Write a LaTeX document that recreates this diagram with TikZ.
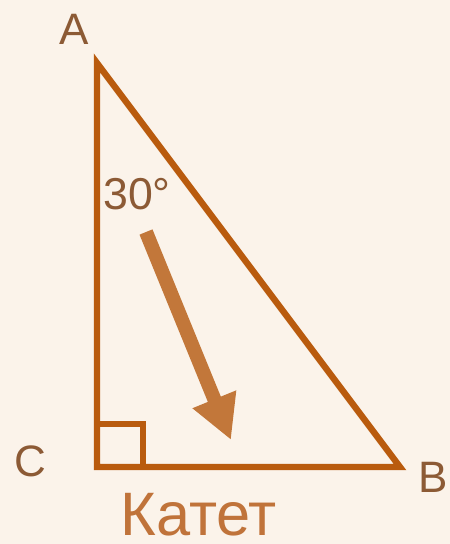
\documentclass[tikz,border=0pt]{standalone}
\usepackage{fontspec}
\setmainfont{Liberation Sans}
\usetikzlibrary{arrows.meta}
\definecolor{bg}{HTML}{FBF3EA}
\definecolor{edge}{HTML}{B95B0E}
\definecolor{arr}{HTML}{C2773A}
\definecolor{lbl}{HTML}{8C5A35}
\definecolor{kat}{HTML}{C0733A}
\tikzset{
  vlabel/.style={text=lbl, inner sep=0pt, font=\fontsize{33}{33}\selectfont},
  side/.style={draw=edge, line width=4.8pt, line join=miter},
}
\begin{document}
\begin{tikzpicture}[x=0.75pt,y=-0.75pt]
\fill[bg] (0,0) rectangle (450,544);
\useasboundingbox (0,0) rectangle (450,544);
\coordinate (A) at (97,63);
\coordinate (C) at (97,467);
\coordinate (B) at (400,467);
\draw[side] (A) -- (B) -- (C) -- cycle;
\draw[draw=edge, line width=4.2pt] (97,424) -- (143,424) -- (143,467);
\node[vlabel] (la) at (74,29) {A};
\node[vlabel] (lc) at (30,461.5) {C};
\node[vlabel] (lb) at (433,477.5) {B};
\node[vlabel, font=\fontsize{33.5}{33.5}\selectfont] (ang) at (137,194) {30°};
\node[text=kat, inner sep=0pt, font=\fontsize{46}{46}\selectfont] (kt) at (198.5,515) {Катет};
\coordinate (s) at (146,232);
\coordinate (t) at (231,440);
\draw[arr, line width=10.5pt, -{Triangle[length=33pt,width=33pt]}] (s) -- (t);
\end{tikzpicture}
\end{document}
